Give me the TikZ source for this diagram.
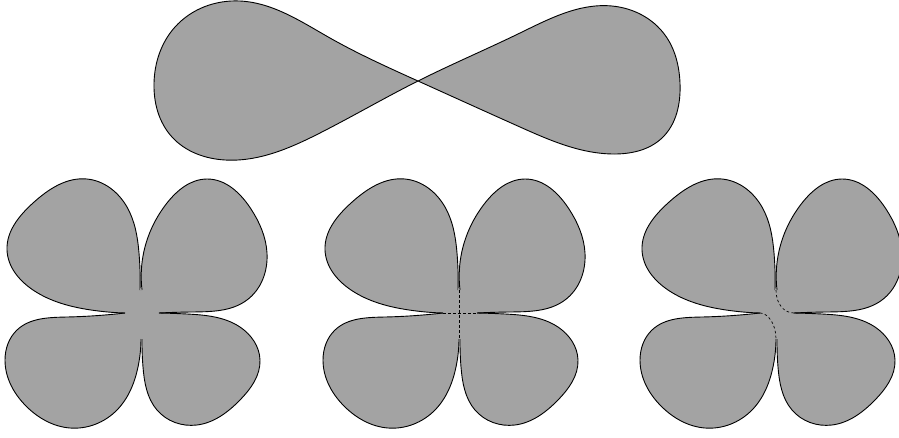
\documentclass[tikz,border=0pt]{standalone}
\usetikzlibrary{hobby}
\definecolor{leafgray}{RGB}{163,163,163}
\tikzset{
  outline/.style={line width=0.9pt, draw=black, line join=round},
  fillshape/.style={fill=leafgray, draw=none},
  centerdash/.style={line width=0.7pt, draw=black, dash pattern=on 2.5pt off 2.5pt}
}
\newcommand\leafTL{(-1,-23) .. (-2,-60) .. (-14,-106) .. (-54,-134) .. (-108,-110) .. (-134,-63) .. (-108,-23) .. (-50,-3) .. (-16,0)}
\newcommand\leafTR{(1,-23) .. (3,-62) .. (26,-110) .. (66,-134) .. (110,-104) .. (126,-60) .. (106,-13) .. (50,-1) .. (18,0)}
\newcommand\leafBL{(-16,0) .. (-74,4) .. (-124,17) .. (-136,47) .. (-114,94) .. (-71,115) .. (-24,97) .. (-3,54) .. (0,26)}
\newcommand\leafBR{(1,26) .. (2,54) .. (16,97) .. (56,112) .. (99,87) .. (119,47) .. (99,14) .. (46,1) .. (18,0)}
\newcommand\cloverbody{%
  \fill[fillshape, use Hobby shortcut] \leafTL;
  \fill[fillshape, use Hobby shortcut] \leafTR;
  \fill[fillshape, use Hobby shortcut] \leafBL;
  \fill[fillshape, use Hobby shortcut] \leafBR;
  \fill[fillshape] (-16,-23) rectangle (18,26);
  \draw[outline, use Hobby shortcut] \leafTL;
  \draw[outline, use Hobby shortcut] \leafTR;
  \draw[outline, use Hobby shortcut] \leafBL;
  \draw[outline, use Hobby shortcut] \leafBR;
}
\begin{document}
\begin{tikzpicture}[x=1pt,y=-1pt]
\useasboundingbox (0,0) rectangle (899,437);
\clip (0,0) rectangle (899,437);
% figure eight
\path[fill=leafgray, outline, use Hobby shortcut, closed=true]
  (418,81) .. (330,38) .. (240,1) .. (175,27) .. (154,83) .. (172,137) .. (225,160) .. (320,133)
  .. (418,81) .. (520,33) .. (612,6) .. (665,35) .. (680,83) .. (662,138) .. (615,154) .. (520,127);
% clover 1
\begin{scope}[shift={(141,313)}]
  \cloverbody
\end{scope}
% clover 2
\begin{scope}[shift={(459,313)}]
  \cloverbody
  \coordinate (t2) at (0,-23);
  \coordinate (b2) at (0,26);
  \coordinate (l2) at (-16,0);
  \coordinate (r2) at (18,0);
  \draw[centerdash] (t2) -- (b2);
  \draw[centerdash] (l2) -- (r2);
\end{scope}
% clover 3
\begin{scope}[shift={(776,313)}]
  \cloverbody
  \coordinate (t3) at (0,-23);
  \coordinate (b3) at (0,26);
  \coordinate (l3) at (-16,0);
  \coordinate (r3) at (18,0);
  \draw[centerdash] (t3) .. controls (0,-9) and (8,0) .. (r3);
  \draw[centerdash] (l3) .. controls (-8,0) and (0,11) .. (b3);
\end{scope}
\end{tikzpicture}
\end{document}
